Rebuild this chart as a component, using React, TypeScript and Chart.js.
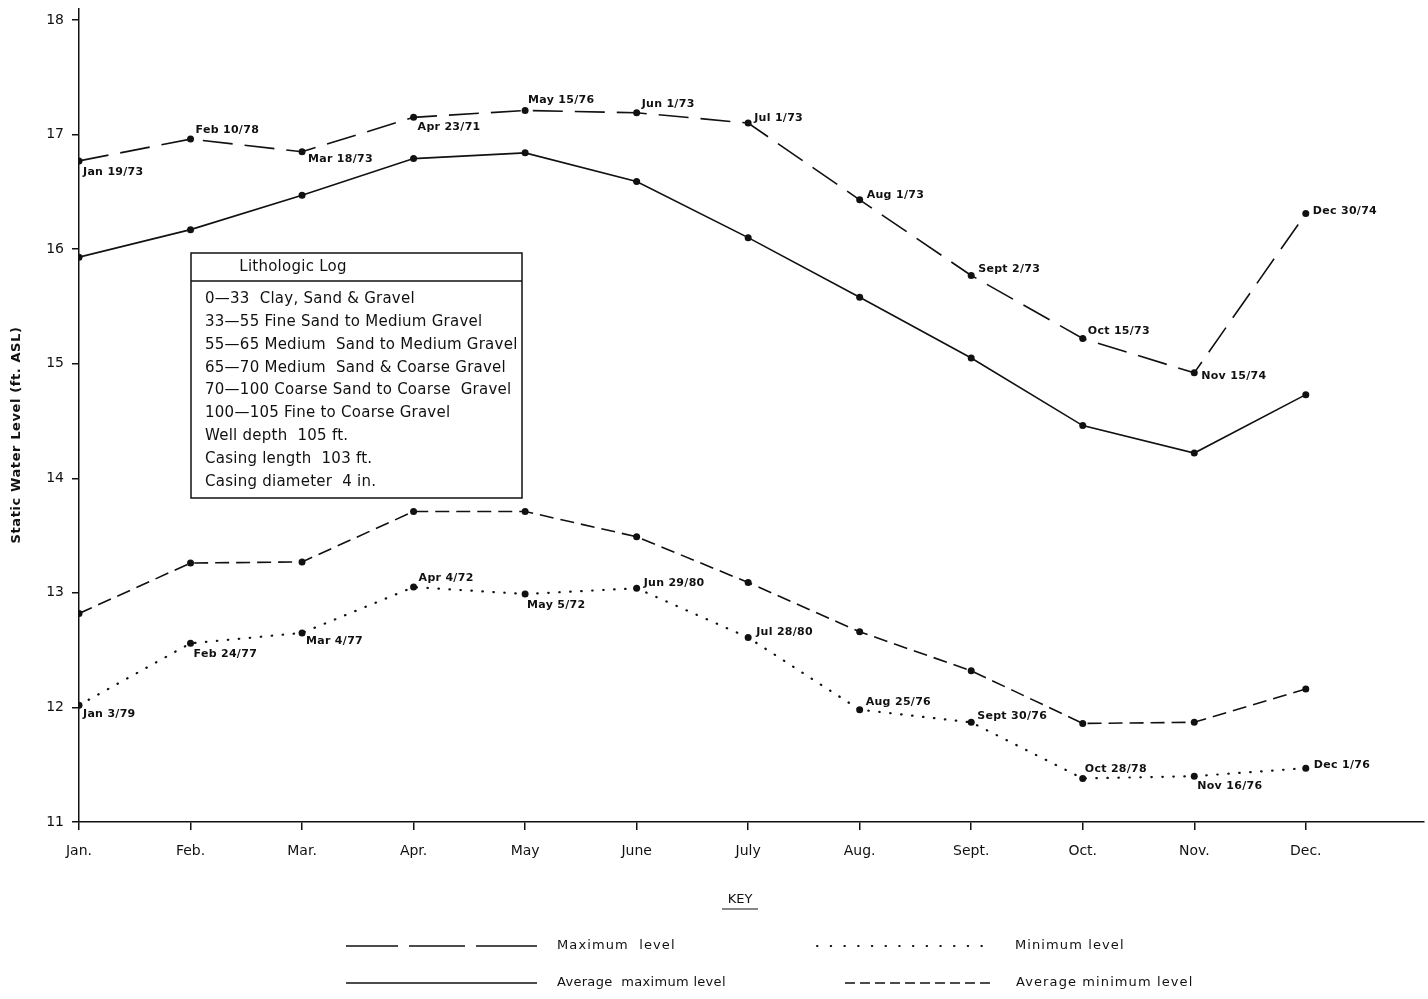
import { useEffect, useRef } from "react";
import { Chart, registerables } from "chart.js";

Chart.register(...registerables);

// Month axis labels
const months = ["Jan.", "Feb.", "Mar.", "Apr.", "May", "June", "July", "Aug.", "Sept.", "Oct.", "Nov.", "Dec."];
const yTickValues = [11, 12, 13, 14, 15, 16, 17, 18];
const yTitle = "Static Water Level (ft. ASL)";

// Static water level (ft. ASL) by month
const maximumLevel = [16.77, 16.96, 16.85, 17.15, 17.21, 17.19, 17.1, 16.43, 15.77, 15.22, 14.92, 16.31];
const maximumDates = ["Jan 19/73", "Feb 10/78", "Mar 18/73", "Apr 23/71", "May 15/76", "Jun 1/73", "Jul 1/73", "Aug 1/73", "Sept 2/73", "Oct 15/73", "Nov 15/74", "Dec 30/74"];
const averageMaximum = [15.93, 16.17, 16.47, 16.79, 16.84, 16.59, 16.1, 15.58, 15.05, 14.46, 14.22, 14.73];
const averageMinimum = [12.82, 13.26, 13.27, 13.71, 13.71, 13.49, 13.09, 12.66, 12.32, 11.86, 11.87, 12.16];
const minimumLevel = [12.02, 12.56, 12.65, 13.05, 12.99, 13.04, 12.61, 11.98, 11.87, 11.38, 11.4, 11.47];
const minimumDates = ["Jan 3/79", "Feb 24/77", "Mar 4/77", "Apr 4/72", "May 5/72", "Jun 29/80", "Jul 28/80", "Aug 25/76", "Sept 30/76", "Oct 28/78", "Nov 16/76", "Dec 1/76"];

// Where each date note sits relative to its point (dx, dy in px)
const maximumNoteOffsets = [[4, 11], [5, -9], [6, 7], [4, 10], [3, -10], [5, -9], [6, -5], [7, -5], [7, -6], [5, -7], [7, 3], [7, -2]];
const minimumNoteOffsets = [[4, 9], [3, 11], [4, 8], [5, -9], [2, 11], [7, -5], [8, -5], [6, -8], [6, -6], [2, -9], [3, 10], [8, -3]];

// Well description
const logTitle = "Lithologic Log";
const logLines = [
  "0\u201433  Clay, Sand & Gravel",
  "33\u201455 Fine Sand to Medium Gravel",
  "55\u201465 Medium  Sand to Medium Gravel",
  "65\u201470 Medium  Sand & Coarse Gravel",
  "70\u2014100 Coarse Sand to Coarse  Gravel",
  "100\u2014105 Fine to Coarse Gravel",
  "Well depth  105 ft.",
  "Casing length  103 ft.",
  "Casing diameter  4 in.",
];

const FONT = "'DejaVu Sans', sans-serif";
const INK = "#111";

const toPoints = (values: number[]) => values.map((v, i) => ({ x: i, y: v }));

const dateNotes = {
  id: "dateNotes",
  afterDatasetsDraw(chart: any) {
    const ctx = chart.ctx;
    ctx.save();
    ctx.fillStyle = INK;
    ctx.font = `bold 11px ${FONT}`;
    (ctx as any).letterSpacing = "0.3px";
    ctx.textAlign = "left";
    ctx.textBaseline = "middle";
    chart.data.datasets.forEach((ds: any, i: number) => {
      if (!ds.notes) return;
      const meta = chart.getDatasetMeta(i);
      meta.data.forEach((el: any, j: number) => {
        const [dx, dy] = ds.noteOffsets[j];
        ctx.fillText(ds.notes[j], el.x + dx, el.y + dy);
      });
    });
    ctx.restore();
  },
};

const extras = {
  id: "extras",
  afterDraw(chart: any) {
    const ctx = chart.ctx;
    ctx.save();
    ctx.strokeStyle = INK;
    ctx.fillStyle = INK;

    // Vertical axis title
    ctx.save();
    ctx.translate(17, 435);
    ctx.rotate(-Math.PI / 2);
    ctx.font = `bold 13px ${FONT}`;
    (ctx as any).letterSpacing = "0.6px";
    ctx.textAlign = "center";
    ctx.textBaseline = "middle";
    ctx.fillText(yTitle, 0, 0);
    ctx.restore();

    // Lithologic log box
    const bx = 191, by = 253, bw = 331, bh = 245;
    ctx.fillStyle = "#fff";
    ctx.fillRect(bx, by, bw, bh);
    ctx.fillStyle = INK;
    ctx.lineWidth = 1.5;
    ctx.strokeRect(bx, by, bw, bh);
    ctx.beginPath();
    ctx.moveTo(bx, 281);
    ctx.lineTo(bx + bw, 281);
    ctx.stroke();
    ctx.font = `15px ${FONT}`;
    (ctx as any).letterSpacing = "0.25px";
    ctx.textBaseline = "middle";
    ctx.textAlign = "center";
    ctx.fillText(logTitle, 293, 267);
    ctx.textAlign = "left";
    logLines.forEach((line, k) => {
      ctx.fillText(line, 205, 299 + k * 22.9);
    });

    // Key
    (ctx as any).letterSpacing = "0px";
    ctx.font = `13px ${FONT}`;
    ctx.textAlign = "center";
    ctx.fillText("KEY", 740, 900);
    ctx.lineWidth = 1;
    ctx.beginPath();
    ctx.moveTo(722, 909);
    ctx.lineTo(758, 909);
    ctx.stroke();

    ctx.lineWidth = 1.5;
    const seg = (x1: number, x2: number, y: number, dash: number[]) => {
      ctx.setLineDash(dash);
      ctx.beginPath();
      ctx.moveTo(x1, y);
      ctx.lineTo(x2, y);
      ctx.stroke();
    };
    seg(346, 398, 946, []);
    seg(409, 465, 946, []);
    seg(476, 537, 946, []);
    seg(346, 537, 983, []);
    ctx.lineCap = "round";
    ctx.lineWidth = 2;
    seg(817, 995, 946, [0.5, 13.2]);
    ctx.lineCap = "butt";
    ctx.lineWidth = 1.5;
    seg(845, 995, 983, [10, 5]);
    ctx.setLineDash([]);

    ctx.textAlign = "left";
    (ctx as any).letterSpacing = "1.1px";
    ctx.fillText("Maximum  level", 557, 946);
    ctx.fillText("Minimum level", 1015, 946);
    ctx.fillText("Average minimum level", 1016, 983);
    (ctx as any).letterSpacing = "0.3px";
    ctx.fillText("Average  maximum level", 557, 983);
    ctx.restore();
  },
};

export default function App() {
  const ref = useRef<HTMLCanvasElement>(null);

  useEffect(() => {
    if (!ref.current) return;
    const line = (label: string, values: number[], dash: number[], width: number, extra: any = {}) => ({
      label,
      data: toPoints(values),
      borderColor: INK,
      backgroundColor: INK,
      borderWidth: width,
      borderDash: dash,
      pointRadius: 3.5,
      pointBackgroundColor: INK,
      pointBorderWidth: 0,
      tension: 0,
      ...extra,
    });

    const chart = new Chart(ref.current, {
      type: "line",
      data: {
        datasets: [
          line("Maximum level", maximumLevel, [30, 12], 1.6, { notes: maximumDates, noteOffsets: maximumNoteOffsets }),
          line("Average maximum level", averageMaximum, [], 1.6),
          line("Average minimum level", averageMinimum, [14, 7], 1.6),
          line("Minimum level", minimumLevel, [0.5, 10.5], 2.2, {
            borderCapStyle: "round",
            notes: minimumDates,
            noteOffsets: minimumNoteOffsets,
          }),
        ] as any,
      },
      options: {
        responsive: false,
        animation: false,
        devicePixelRatio: 1,
        layout: { padding: { top: 8.5, right: 0, bottom: 132, left: 0 } },
        plugins: { legend: { display: false }, tooltip: { enabled: false } },
        scales: {
          x: {
            type: "linear",
            min: 0,
            max: 12.06,
            afterBuildTicks: (s: any) => {
              s.ticks = months.map((_, i) => ({ value: i }));
            },
            afterFit: (s: any) => {
              s.height = 45;
            },
            ticks: {
              autoSkip: false,
              maxRotation: 0,
              padding: 13,
              color: INK,
              font: { family: FONT, size: 14 },
              callback: (v: any) => months[v] ?? "",
            },
            grid: { display: true, drawOnChartArea: false, drawTicks: true, tickLength: 8, color: INK, lineWidth: 1.5 },
            border: { display: true, color: INK, width: 1.5 },
          },
          y: {
            min: 11,
            max: 18.1,
            afterBuildTicks: (s: any) => {
              s.ticks = yTickValues.map((v) => ({ value: v }));
            },
            afterFit: (s: any) => {
              s.width = 79;
              s.paddingTop = 0;
              s.paddingBottom = 0;
            },
            ticks: { padding: 8, color: INK, font: { family: FONT, size: 14 } },
            grid: { display: true, drawOnChartArea: false, drawTicks: true, tickLength: 7, color: INK, lineWidth: 1.5 },
            border: { display: true, color: INK, width: 1.5 },
          },
        },
      } as any,
      plugins: [dateNotes, extras],
    });
    return () => chart.destroy();
  }, []);

  return (
    <div style={{ position: "absolute", left: 0, top: 0, width: 1428, height: 999, background: "#fff" }}>
      <canvas ref={ref} width={1428} height={999} style={{ width: 1428, height: 999, display: "block" }} />
    </div>
  );
}
